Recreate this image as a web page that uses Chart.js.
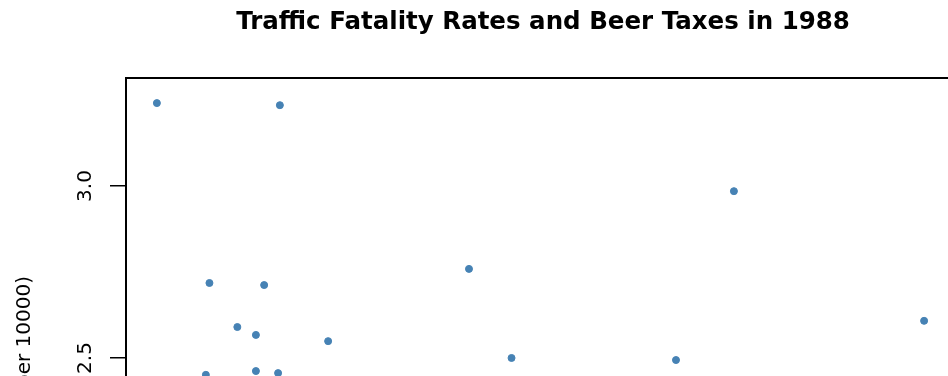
<!DOCTYPE html>
<html>
<head>
<meta charset="utf-8">
<script src="https://cdn.jsdelivr.net/npm/chart.js@4"></script>
<style>
  html, body { margin: 0; padding: 0; background: #fff; overflow: hidden; }
  #wrap { width: 948px; height: 376px; overflow: hidden; position: relative; }
  canvas { display: block; }
</style>
</head>
<body>
<div id="wrap"><canvas id="myChart" width="1000" height="912"></canvas></div>
<script>
const titleText = "Traffic Fatality Rates and Beer Taxes in 1988";
const xLabel = "Beer tax (in 1988 dollars)";
const yLabel = "Fatality rate (fatalities per 10000)";

// beer tax (x) and fatality rate (y) for the points visible in the picture
const beerTax = [0.04, 0.384, 0.187, 0.340, 0.265, 0.317, 0.519, 0.913, 1.032, 1.492, 1.654, 2.186, 0.177, 0.317, 0.379];
const fatalRate = [3.241, 3.235, 2.718, 2.712, 2.590, 2.567, 2.549, 2.759, 2.500, 2.494, 2.985, 2.608, 2.451, 2.462, 2.456];

const xTicks = [0.0, 0.5, 1.0, 1.5, 2.0];
const yTicks = [1.5, 2.0, 2.5, 3.0];

const points = beerTax.map((x, i) => ({ x: x, y: fatalRate[i] }));

const axisFont = { family: "DejaVu Sans", size: 20 };

// R style box around the plot region
const plotBox = {
  id: "plotBox",
  afterDatasetsDraw(chart) {
    const a = chart.chartArea;
    const ctx = chart.ctx;
    ctx.save();
    ctx.strokeStyle = "#000";
    ctx.lineWidth = 2;
    ctx.strokeRect(a.left, a.top, a.right - a.left, a.bottom - a.top);
    ctx.restore();
  }
};

const ctx = document.getElementById("myChart").getContext("2d");

new Chart(ctx, {
  type: "scatter",
  data: {
    datasets: [{
      data: points,
      backgroundColor: "steelblue",
      borderColor: "steelblue",
      borderWidth: 1,
      pointRadius: 3.5,
      pointHoverRadius: 3.5
    }]
  },
  options: {
    responsive: false,
    animation: false,
    layout: { padding: { left: 0, right: 40, top: 0, bottom: 0 } },
    plugins: {
      legend: { display: false },
      tooltip: { enabled: false },
      title: {
        display: true,
        text: titleText,
        fullSize: false,
        color: "#000",
        font: { family: "DejaVu Sans", size: 24.5, weight: "bold" },
        padding: { top: 7.5, bottom: 41.1 }
      }
    },
    scales: {
      x: {
        type: "linear",
        min: -0.0464,
        max: 2.2864,
        afterBuildTicks: s => { s.ticks = xTicks.map(v => ({ value: v })); },
        afterFit: s => { s.height = 100; },
        border: { display: false },
        grid: { drawOnChartArea: false, color: "#000", lineWidth: 1.5, tickLength: 16 },
        ticks: { color: "#000", font: axisFont, padding: 6, callback: v => v.toFixed(1) },
        title: { display: true, text: xLabel, color: "#000", font: axisFont }
      },
      y: {
        type: "linear",
        min: 1.180,
        max: 3.314,
        afterBuildTicks: s => { s.ticks = yTicks.map(v => ({ value: v })); },
        afterFit: s => { s.width = 126; },
        border: { display: false },
        grid: { drawOnChartArea: false, color: "#000", lineWidth: 1.5, tickLength: 16 },
        ticks: {
          color: "#000",
          font: axisFont,
          minRotation: 90,
          maxRotation: 90,
          crossAlign: "center",
          padding: 8,
          callback: v => v.toFixed(1)
        },
        title: {
          display: true,
          text: yLabel,
          color: "#000",
          font: axisFont,
          padding: { top: 12.9, bottom: 0 }
        }
      }
    }
  },
  plugins: [plotBox]
});
</script>
</body>
</html>
